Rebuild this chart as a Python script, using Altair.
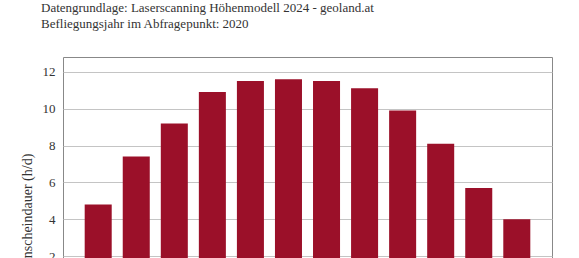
import altair as alt
import pandas as pd

months = ["Jan", "Feb", "Mär", "Apr", "Mai", "Jun", "Jul", "Aug", "Sep", "Okt", "Nov", "Dez"]
hours = [4.8, 7.4, 9.2, 10.9, 11.5, 11.6, 11.5, 11.1, 9.9, 8.1, 5.7, 4.0]
y_ticks = [0, 2, 4, 6, 8, 10, 12]
title_lines = [
    "Datengrundlage: Laserscanning Höhenmodell 2024 - geoland.at",
    "Befliegungsjahr im Abfragepunkt: 2020",
]
y_title = "Sonnenscheindauer (h/d)"

df = pd.DataFrame({"Monat": months, "Stunden": hours})

FONT = "Liberation Serif"

chart = (
    alt.Chart(df)
    .mark_bar(color="#9b1029")
    .encode(
        x=alt.X(
            "Monat:N",
            sort=months,
            title=None,
            scale=alt.Scale(paddingInner=0.29, paddingOuter=0.57),
            axis=alt.Axis(labelAngle=0, ticks=False, domain=False, grid=False,
                          labelFont=FONT, labelFontSize=13, labelColor="#333"),
        ),
        y=alt.Y(
            "Stunden:Q",
            title=y_title,
            scale=alt.Scale(domain=[0, 12.8], nice=False, zero=True),
            axis=alt.Axis(
                values=y_ticks,
                ticks=False,
                domain=False,
                labelPadding=8,
                labelFont=FONT,
                labelFontSize=13,
                labelColor="#333",
                titleFont=FONT,
                titleFontSize=14,
                titleFontWeight="normal",
                titleColor="#333",
                titleX=-36,
                titleY=166,
                titleAngle=270,
                titleAlign="center",
                titleBaseline="middle",
                gridColor="#c4c4c4",
                gridWidth=1,
            ),
        ),
    )
    .properties(
        width=489,
        height=236,
        title=alt.Title(
            title_lines,
            anchor="start",
            frame="group",
            dx=-22,
            offset=26,
            font=FONT,
            fontSize=13,
            fontWeight="normal",
            color="#333",
            lineHeight=16,
        ),
        padding={"left": 63, "top": 57, "right": 27, "bottom": 10},
        autosize=alt.AutoSizeParams(type="none"),
    )
    .configure_view(stroke="#888888", strokeWidth=1)
)

chart.save("out.html", embed_options={"renderer": "svg", "actions": False})
